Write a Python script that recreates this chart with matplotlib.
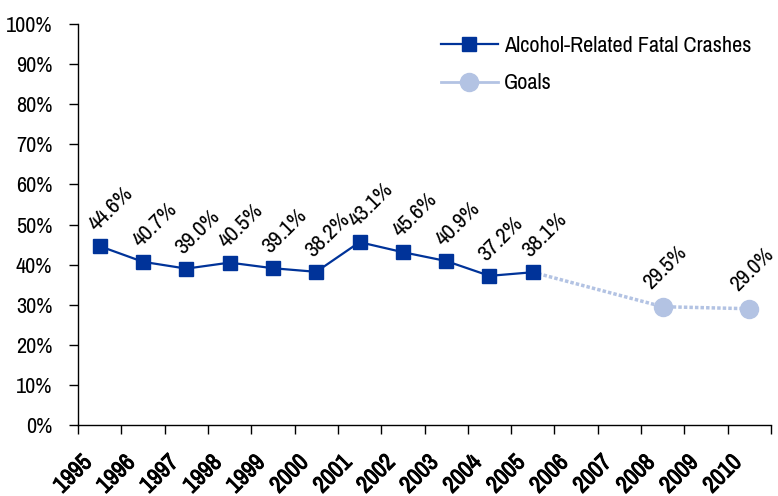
import numpy as np
import matplotlib
matplotlib.use('Agg')
import matplotlib.pyplot as plt
import matplotlib.patheffects as pe
from matplotlib.lines import Line2D

plt.rcParams['font.family'] = ['Archivo Narrow', 'DejaVu Sans']

# data
years = [1995, 1996, 1997, 1998, 1999, 2000, 2001, 2002,
         2003, 2004, 2005, 2006, 2007, 2008, 2009, 2010]
crash_years = [1995, 1996, 1997, 1998, 1999, 2000, 2001, 2002, 2003, 2004, 2005]
crash_rates = [44.6, 40.7, 39.0, 40.5, 39.1, 38.2, 45.6, 43.1, 40.9, 37.2, 38.1]
crash_labels = ['44.6%', '40.7%', '39.0%', '40.5%', '39.1%', '38.2%',
                '43.1%', '45.6%', '40.9%', '37.2%', '38.1%']
goal_years = [2005, 2008, 2010]
goal_rates = [38.1, 29.5, 29.0]
goal_labels = ['', '29.5%', '29.0%']
y_ticks = [0, 10, 20, 30, 40, 50, 60, 70, 80, 90, 100]

dark = '#003399'
light = '#b3c3e3'

fig = plt.figure(figsize=(7.78, 4.96), dpi=100)
ax = fig.add_axes([0.1003, 0.1431, 0.8907, 0.8085])

xc = [y - years[0] for y in crash_years]
xg = [y - years[0] for y in goal_years]

ax.plot(xg, goal_rates, color=light, lw=2.5, ls=(0, (1, 0.6)),
        marker='o', ms=13, markevery=[1, 2], mfc=light, mec=light, zorder=2)
ax.plot(xc, crash_rates, color=dark, lw=1.6, marker='s', ms=10,
        mfc=dark, mec=dark, zorder=3)

for x, v, t in zip(xc, crash_rates, crash_labels):
    ax.annotate(t, (x, v), xytext=(-2, 10), textcoords='offset points',
                rotation=45, rotation_mode='anchor', ha='left', va='baseline',
                fontsize=16.5)
for x, v, t in zip(xg, goal_rates, goal_labels):
    if t:
        ax.annotate(t, (x, v), xytext=(-8, 12), textcoords='offset points',
                    rotation=45, rotation_mode='anchor', ha='left', va='baseline',
                    fontsize=16)

ax.set_xlim(-0.5, len(years) - 0.5)
ax.set_ylim(0, 100)
ax.set_yticks(y_ticks)
ax.set_yticklabels([f'{v}%' for v in y_ticks], fontsize=16)
ax.tick_params(axis='y', length=6.5, width=1, pad=12)

# category boundaries get the tick marks, names sit under the centres
ax.set_xticks(np.arange(-0.5, len(years)), labels=[])
ax.tick_params(axis='x', which='major', length=6.5, width=1)
for i, y in enumerate(years):
    ax.annotate(str(y), (i, 0), xycoords=('data', 'axes fraction'),
                xytext=(-13.5, -19), textcoords='offset points',
                rotation=45, rotation_mode='anchor', ha='right', va='top',
                fontsize=17,
                path_effects=[pe.withStroke(linewidth=0.7, foreground='black')])

for s in ['top', 'right']:
    ax.spines[s].set_visible(False)
for s in ['left', 'bottom']:
    ax.spines[s].set_linewidth(1)

handles = [
    Line2D([], [], color=dark, lw=1.6, marker='s', ms=10),
    Line2D([], [], color=light, lw=2, marker='o', ms=13),
]
fig.legend(handles, ['Alcohol-Related Fatal Crashes', 'Goals'],
           loc='upper left', bbox_to_anchor=(441 / 778, 1 - 36 / 496),
           frameon=False, fontsize=16, handlelength=2.55, handletextpad=0.3,
           labelspacing=0.78, borderpad=0, borderaxespad=0)

fig.savefig('out.png', dpi=100)
